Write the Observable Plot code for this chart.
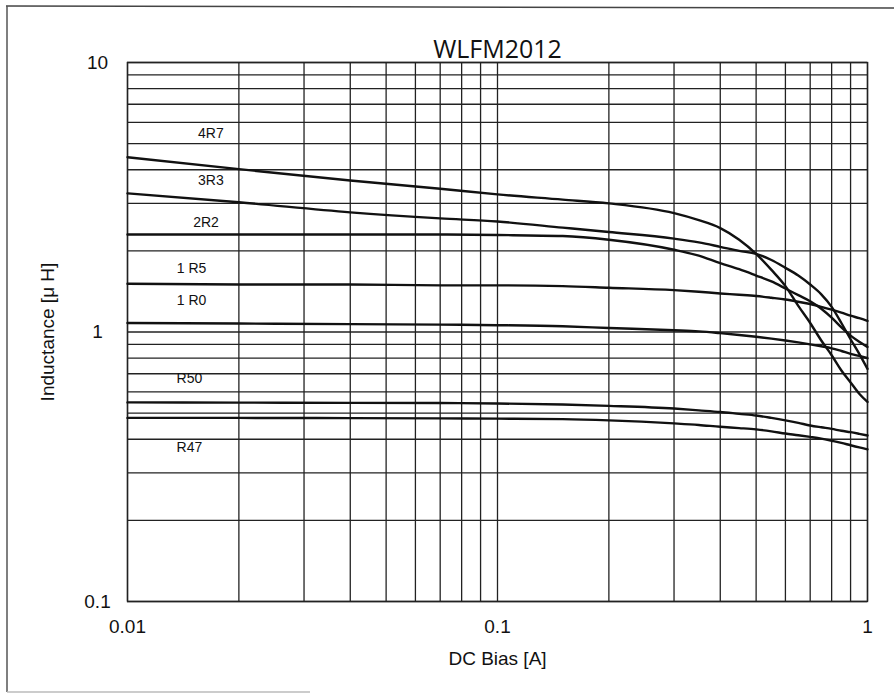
<!DOCTYPE html>
<html><head><meta charset="utf-8">
<script src="https://cdn.jsdelivr.net/npm/d3@7"></script>
<script src="https://cdn.jsdelivr.net/npm/@observablehq/plot@0.6"></script>
<style>
body{margin:0;background:#fff;}
#chart{width:894px;height:699px;}
</style></head><body><div id="chart"></div>
<script>
// DC bias current [A] sample points
const bias = [0.01, 0.02, 0.04, 0.07, 0.1, 0.15, 0.2, 0.3, 0.35, 0.4, 0.45, 0.5, 0.55, 0.6, 0.65, 0.7, 0.75, 0.8, 0.85, 0.9, 0.95, 1.0];
// Inductance [uH] per part
const L_4R7 = [4.45, 4.02, 3.65, 3.40, 3.24, 3.10, 3.00, 2.76, 2.60, 2.43, 2.20, 1.95, 1.70, 1.48, 1.25, 1.08, 0.93, 0.82, 0.72, 0.65, 0.59, 0.55];
const L_3R3 = [3.27, 3.03, 2.78, 2.64, 2.57, 2.44, 2.35, 2.22, 2.15, 2.07, 2.00, 1.95, 1.85, 1.73, 1.62, 1.50, 1.38, 1.24, 1.08, 0.94, 0.83, 0.73];
const L_2R2 = [2.30, 2.30, 2.30, 2.30, 2.29, 2.27, 2.20, 2.02, 1.92, 1.80, 1.71, 1.62, 1.54, 1.45, 1.37, 1.30, 1.22, 1.13, 1.04, 0.97, 0.92, 0.88];
const L_1R5 = [1.51, 1.50, 1.50, 1.49, 1.49, 1.48, 1.46, 1.43, 1.41, 1.39, 1.375, 1.36, 1.34, 1.32, 1.295, 1.27, 1.24, 1.21, 1.18, 1.15, 1.125, 1.10];
const L_1R0 = [1.08, 1.075, 1.07, 1.065, 1.06, 1.05, 1.035, 1.015, 1.005, 0.99, 0.975, 0.96, 0.945, 0.93, 0.915, 0.90, 0.885, 0.87, 0.85, 0.83, 0.815, 0.80];
const L_R50 = [0.548, 0.547, 0.546, 0.545, 0.543, 0.538, 0.532, 0.52, 0.512, 0.505, 0.497, 0.49, 0.48, 0.47, 0.46, 0.45, 0.443, 0.437, 0.43, 0.425, 0.419, 0.413];
const L_R47 = [0.48, 0.48, 0.479, 0.478, 0.477, 0.475, 0.47, 0.458, 0.452, 0.445, 0.44, 0.435, 0.428, 0.42, 0.414, 0.408, 0.402, 0.395, 0.388, 0.38, 0.373, 0.367];

const seriesNames = ["4R7", "3R3", "2R2", "1R5", "1R0", "R50", "R47"];
const seriesTexts = ["4R7", "3R3", "2R2", "1 R5", "1 R0", "R50", "R47"];
const seriesValues = [L_4R7, L_3R3, L_2R2, L_1R5, L_1R0, L_R50, L_R47];
// label anchor points (data units)
const labelBias = [0.0168, 0.0168, 0.0163, 0.0149, 0.0149, 0.0147, 0.0147];
const labelL = [5.45, 3.65, 2.55, 1.72, 1.31, 0.672, 0.373];

const xTickValues = [0.01, 0.1, 1];
const xTickLabels = ["0.01", "0.1", "1"];
const yTickValues = [0.1, 1, 10];
const yTickLabels = ["0.1", "1", "10"];
const mantissas = [1, 2, 3, 4, 5, 6, 7, 8, 9];
const xDecades = [0.01, 0.1];
const yDecades = [0.1, 1];

const titleText = "WLFM2012";
const xLabel = "DC Bias [A]";
const yLabel = "Inductance [μ H]";

const rows = seriesNames.flatMap((name, i) => bias.map((b, j) => ({name, bias: b, L: seriesValues[i][j]})));
const labels = seriesNames.map((name, i) => ({name: seriesTexts[i], bias: labelBias[i], L: labelL[i]}));
const xGrid = xDecades.flatMap(d => mantissas.map(m => +(d * m).toPrecision(3))).concat([1]);
const yGrid = yDecades.flatMap(d => mantissas.map(m => +(d * m).toPrecision(3))).concat([10]);
const xTicks = xTickValues.map((v, i) => ({v, t: xTickLabels[i]}));
const yTicks = yTickValues.map((v, i) => ({v, t: yTickLabels[i]}));

const plot = Plot.plot({
  width: 894, height: 699,
  marginLeft: 127, marginRight: 27, marginTop: 62, marginBottom: 98,
  x: {type: "log", domain: [0.01, 1], axis: null},
  y: {type: "log", domain: [0.1, 10], axis: null},
  style: {fontFamily: "'Liberation Sans', Arial, sans-serif", background: "#fff", color: "#111"},
  marks: [
    Plot.ruleX(xGrid, {stroke: "#222", strokeWidth: 1.3}),
    Plot.ruleY(yGrid, {stroke: "#222", strokeWidth: 1.3}),
    Plot.frame({stroke: "#222", strokeWidth: 1.4}),
    Plot.line(rows, {x: "bias", y: "L", z: "name", stroke: "#111", strokeWidth: 2.4, curve: "monotone-x"}),
    Plot.text(labels, {x: "bias", y: "L", text: "name", fontSize: 14, fill: "#111", style: "letter-spacing:1.5px"}),
    Plot.text(xTicks, {x: "v", text: "t", frameAnchor: "bottom", textAnchor: "middle", dy: 31, fontSize: 19, fill: "#111"}),
    Plot.text(yTicks, {y: "v", text: "t", frameAnchor: "left", textAnchor: "middle", dx: -30, fontSize: 19, fill: "#111"}),
    Plot.text([xLabel], {text: d => d, frameAnchor: "bottom", textAnchor: "middle", dy: 63, fontSize: 19, fill: "#111"}),
    Plot.text([yLabel], {text: d => d, frameAnchor: "left", textAnchor: "middle", dx: -80, rotate: -90, fontSize: 19, fill: "#111"}),
    Plot.text([titleText], {text: d => d, frameAnchor: "top", textAnchor: "middle", dy: -22, fontSize: 25, fill: "#111", fontFamily: "'Open Sans', sans-serif"})
  ]
});

// outer picture border (decoration)
const svg = d3.select(plot);
svg.append("line").attr("x1", 6).attr("y1", 6).attr("x2", 894).attr("y2", 8).attr("stroke", "#444").attr("stroke-width", 1.5);
svg.append("line").attr("x1", 7).attr("y1", 6).attr("x2", 7).attr("y2", 692).attr("stroke", "#555").attr("stroke-width", 1.5);
svg.append("line").attr("x1", 7).attr("y1", 692).attr("x2", 310).attr("y2", 692).attr("stroke", "#bbb").attr("stroke-width", 1.5);

document.getElementById("chart").append(plot);
</script>
</body></html>
